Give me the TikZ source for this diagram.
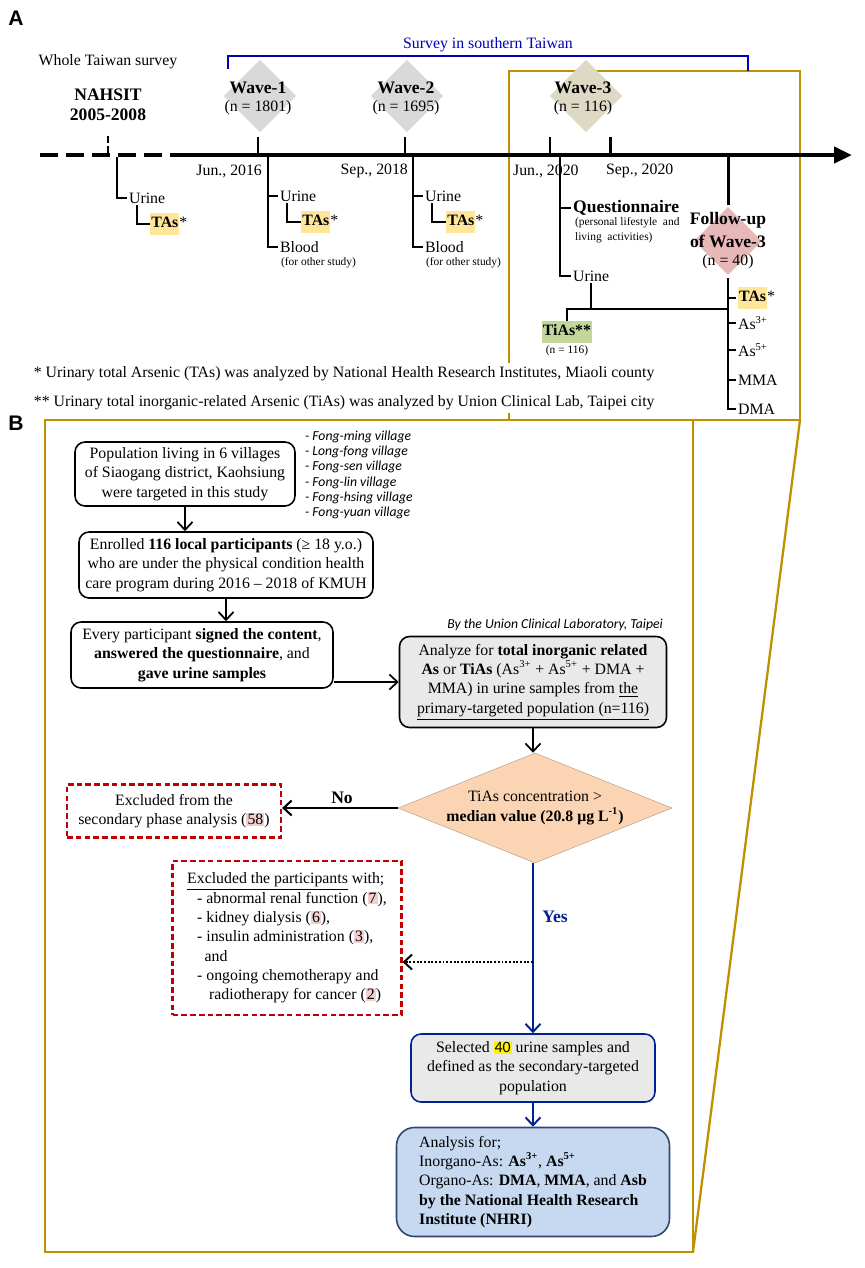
\documentclass[tikz,border=0pt]{standalone}
\usepackage{fontspec}
\setmainfont{Liberation Serif}
\setsansfont{Liberation Sans}
\newfontfamily\calibri{Carlito}
\usepackage{tikz}
\usetikzlibrary{arrows.meta,shapes.geometric}
\usepackage{xcolor}

\definecolor{goldbox}{RGB}{191,144,0}
\definecolor{surveyblue}{RGB}{0,0,180}
\definecolor{wavegrey}{RGB}{217,217,217}
\definecolor{wavebeige}{RGB}{221,217,196}
\definecolor{wavepink}{RGB}{230,184,183}
\definecolor{tasyellow}{RGB}{255,230,153}
\definecolor{tiasgreen}{RGB}{196,215,155}
\definecolor{numpink}{RGB}{242,206,206}
\definecolor{peach}{RGB}{251,212,180}
\definecolor{boxgrey}{RGB}{233,233,233}
\definecolor{yesblue}{RGB}{0,32,150}
\definecolor{lightblue}{RGB}{198,217,240}
\definecolor{slate}{RGB}{50,70,110}
\definecolor{exred}{RGB}{192,0,0}

\newcommand{\hlt}[2]{{\setlength{\fboxsep}{0.6pt}\colorbox{#1}{\strut #2}}}
\newcommand{\hln}[1]{{\setlength{\fboxsep}{0.6pt}\colorbox{numpink}{#1}}}
\newcommand{\sznote}{\fontsize{6.5}{8.5}\selectfont}
\newcommand{\szvill}{\calibri\itshape\fontsize{7.8}{8.7}\selectfont}
\newcommand{\szhead}{\fontsize{10}{11.5}\selectfont\bfseries}

\tikzset{
  flowbox/.style={draw, line width=0.9pt, rounded corners=0.2cm, align=center},
  exbox/.style={draw=exred, line width=1.3pt, dash pattern=on 3.2pt off 1.8pt, align=center},
  timetick/.style={line width=1.7pt},
  branchline/.style={line width=0.8pt},
  goldline/.style={draw=goldbox, line width=1.3pt},
  wavediamond/.style={rotate=45, minimum size=1.02cm, inner sep=0pt},
}

\begin{document}
\begin{tikzpicture}[x=0.02cm, y=-0.02cm, inner sep=1pt,
    font=\fontsize{9}{11}\selectfont,
    >={Straight Barb[length=1.6mm,width=3mm]}]
  \useasboundingbox (0,0) rectangle (865,1268);

  % frames
  \draw[goldline] (509,420) -- (509,71) -- (800,71) -- (800,420) -- cycle;
  \draw[goldline] (45,420) rectangle (693,1252);
  \draw[goldline] (800,420) -- (693,1252);

  \node[font=\sffamily\bfseries\fontsize{12}{14}\selectfont] (lblA) at (16,18) {A};
  \node[font=\sffamily\bfseries\fontsize{12}{14}\selectfont] (lblB) at (16,423) {B};

  % part A: headings
  \node (whole) at (108,62) {Whole Taiwan survey};
  \node[font=\szhead] (nahsit) at (108,95) {NAHSIT};
  \node[font=\szhead] (nyears) at (108,115) {2005-2008};

  \node[text=surveyblue] (south) at (488,45) {Survey in southern Taiwan};
  \coordinate (sbl) at (228,69);
  \coordinate (sbm) at (488,56);
  \coordinate (sbr) at (748,71);
  \draw[surveyblue, line width=1.1pt] (sbl) |- (sbm) -| (sbr);

  \node[wavediamond, fill=wavegrey] (dw1) at (260,96) {};
  \node[wavediamond, fill=wavegrey] (dw2) at (407,96) {};
  \node[wavediamond, fill=wavebeige] (dw3) at (586,96) {};
  \node[font=\szhead] (w1) at (258,88) {Wave-1};
  \node (n1) at (258,108) {(n = 1801)};
  \node[font=\szhead] (w2) at (406,88) {Wave-2};
  \node (n2) at (406,108) {(n = 1695)};
  \node[font=\szhead] (w3) at (583,88) {Wave-3};
  \node (n3) at (583,108) {(n = 116)};

  % timeline
  \coordinate (tl0) at (40,155);
  \coordinate (tl1) at (181,155);
  \coordinate (tl2) at (852,155);
  \draw[line width=2.8pt, dash pattern=on 0.36cm off 0.16cm] (tl0) -- (tl1);
  \draw[line width=2.8pt, -{Triangle[length=0.36cm,width=0.32cm]}] (tl1) -- (tl2);

  \draw[timetick, dash pattern=on 4pt off 1.5pt] (108,136) -- (108,155);
  \foreach \x in {258,405,550,610}
    \draw[timetick] (\x,137) -- (\x,155);
  \draw[timetick] (728,155) -- (728,205);

  \node[anchor=east] (d16) at (264,171) {Jun., 2016};
  \node[anchor=east] (d18) at (410,171) {Sep., 2018};
  \node[anchor=west] (d20a) at (511,171) {Jun., 2020};
  \node[anchor=west] (d20b) at (604,171) {Sep., 2020};

  % NAHSIT branch
  \coordinate (bn) at (117,157);
  \node[anchor=west] (urn) at (127,198) {Urine};
  \node[anchor=west, inner sep=0pt] (tasn) at (150,224) {\hlt{tasyellow}{\textbf{TAs}}*};
  \draw[branchline] (bn) |- (urn.west);
  \draw[branchline] ([xshift=0.2cm]urn.south west) |- (tasn.west);

  % wave-1 and wave-2 branches
  \foreach \x/\i in {268/1,413/2}{
    \coordinate (br\i) at (\x,157);
    \node[anchor=west] (ur\i) at (\x+10,196) {Urine};
    \node[anchor=west, inner sep=0pt] (tas\i) at (\x+33,222) {\hlt{tasyellow}{\textbf{TAs}}*};
    \node[anchor=west] (bl\i) at (\x+10,247) {Blood};
    \node[anchor=west, font=\sznote] (os\i) at (\x+11,263) {(for other study)};
    \draw[branchline] (br\i) |- (bl\i.west);
    \draw[branchline] (br\i |- ur\i.west) -- (ur\i.west);
    \draw[branchline] ([xshift=0.18cm]ur\i.south west) |- (tas\i.west);
  }

  % wave-3 branch
  \coordinate (b3) at (560,157);
  \node[anchor=west, font=\bfseries] (quest) at (571,208) {Questionnaire};
  \node[anchor=north west, font=\sznote, align=left] (qsub) at (573,215) {(personal lifestyle\ \ and\\living\ \ activities)};
  \node[anchor=west] (ur3) at (571,276) {Urine};
  \draw[branchline] (b3) |- (ur3.west);
  \draw[branchline] (b3 |- quest.west) -- (quest.west);

  \node[inner sep=0pt] (tias) at (567,332) {\hlt{tiasgreen}{\textbf{TiAs**}}};
  \node[font=\sznote] (tiasn) at (567,351) {(n = 116)};

  % follow-up
  \node[wavediamond, fill=wavepink, minimum size=0.96cm] (dfu) at (728,241) {};
  \node[font=\szhead] (fu1) at (728,220) {Follow-up};
  \node[font=\szhead] (fu2) at (728,241) {of Wave-3};
  \node (fu3) at (728,262) {(n = 40)};

  \coordinate (fut) at (728,278);
  \coordinate (fuj) at (728,309);
  \foreach \y/\n/\t in {298/1/{\hlt{tasyellow}{\textbf{TAs}}*}, 323/2/{As\textsuperscript{3+}},
                        350/3/{As\textsuperscript{5+}}, 380/4/{MMA}, 409/5/{DMA}}
    \node[anchor=west] (fl\n) at (736,\y) {\t};
  \draw[branchline] (fut) |- (fl5.west);
  \foreach \n in {1,...,4}
    \draw[branchline] (fut |- fl\n.west) -- (fl\n.west);
  \draw[branchline] (ur3.south) -- (ur3.south |- fuj);
  \draw[branchline] (tias.north) |- (fuj);

  \node[anchor=west, fill=white, align=left, inner sep=2pt] (foot) at (30,388)
    {* Urinary total Arsenic (TAs) was analyzed by National Health Research Institutes, Miaoli county\\[5.5pt]
     ** Urinary total inorganic-related Arsenic (TiAs) was analyzed by Union Clinical Lab, Taipei city};

  % part B
  \node[flowbox, minimum width=4.4cm, minimum height=1.28cm] (pop) at (185,474)
    {Population living in 6 villages\\of Siaogang district, Kaohsiung\\were targeted in this study};
  \node[anchor=west, align=left, font=\szvill] (vill) at (303,475)
    {- Fong-ming village\\- Long-fong village\\- Fong-sen village\\- Fong-lin village\\- Fong-hsing village\\- Fong-yuan village};
  \node[flowbox, minimum width=5.88cm, minimum height=1.32cm] (enrol) at (226,565)
    {Enrolled \textbf{116 local participants} (≥ 18 y.o.)\\who are under the physical condition health\\care program during 2016 – 2018 of KMUH};
  \node[flowbox, minimum width=5.24cm, minimum height=1.32cm] (consent) at (202,655)
    {Every participant \textbf{signed the content},\\\textbf{answered the questionnaire}, and\\\textbf{gave urine samples}};
  \node[anchor=east, font=\szvill] (union) at (665,625) {By the Union Clinical Laboratory, Taipei};
  \node[flowbox, fill=boxgrey, minimum width=5.34cm, minimum height=1.82cm] (anal) at (533,682)
    {Analyze for \textbf{total inorganic related}\\\textbf{As} or \textbf{TiAs} (As\textsuperscript{3+} + As\textsuperscript{5+} + DMA +\\MMA) in urine samples from \underline{the}\\\underline{primary-targeted population (n=116)}};
  \node[diamond, aspect=2.5, inner sep=0pt, fill=peach, draw=peach!75!black, line width=0.3pt,
        minimum width=5.48cm, minimum height=2.2cm, align=center] (dec) at (535,808)
    {TiAs concentration >\\\textbf{median value (20.8 μg L\textsuperscript{-1})}};
  \node[exbox, minimum width=4.28cm, minimum height=1.06cm] (excl1) at (174,811)
    {Excluded from the\\secondary phase analysis (\hln{58})};
  \node[exbox, align=left, minimum width=4.58cm, minimum height=3.08cm] (excl2) at (287,938)
    {\underline{Excluded the participants} with;\\
     \hspace*{0.2cm}- abnormal renal function (\hln{7}),\\
     \hspace*{0.2cm}- kidney dialysis (\hln{6}),\\
     \hspace*{0.2cm}- insulin administration (\hln{3}),\\
     \hspace*{0.35cm}and\\
     \hspace*{0.2cm}- ongoing chemotherapy and\\
     \hspace*{0.44cm}radiotherapy for cancer (\hln{2})};
  \node[flowbox, draw=yesblue, fill=boxgrey, minimum width=4.88cm, minimum height=1.36cm] (sel) at (533,1068)
    {Selected {\calibri\setlength{\fboxsep}{0.6pt}\colorbox{yellow}{40}} urine samples and\\defined as the secondary-targeted\\population};
  \node[flowbox, draw=slate, fill=lightblue, rounded corners=0.36cm, align=left,
        minimum width=5.46cm, minimum height=2.18cm] (nhri) at (533,1182)
    {Analysis for;\\Inorgano-As: \textbf{As\textsuperscript{3+}}, \textbf{As\textsuperscript{5+}}\\Organo-As: \textbf{DMA}, \textbf{MMA}, and \textbf{Asb}\\\textbf{by the National Health Research}\\\textbf{Institute (NHRI)}};

  \draw[->, line width=1pt] (pop.south) -- (pop.south |- enrol.north);
  \draw[->, line width=1pt] (enrol.south) -- (enrol.south |- consent.north);
  \draw[->, line width=1pt] (consent.east |- anal.west) -- (anal.west);
  \draw[->, line width=1pt] (anal.south) -- (anal.south |- dec.north);
  \draw[->, line width=1.2pt] (dec.west) -- (dec.west -| excl1.east);
  \node[font=\szhead] (no) at (342,798) {No};
  \draw[->, yesblue, line width=1.1pt] (dec.south -| sel.north) -- (sel.north);
  \node[font=\szhead, text=yesblue] (yes) at (555,917) {Yes};
  \coordinate (dotfrom) at (533,962);
  \draw[->, densely dotted, line width=1.1pt] (dotfrom) -- (dotfrom -| excl2.east);
  \draw[->, yesblue, line width=1.1pt] (sel.south) -- (nhri.north);
\end{tikzpicture}
\end{document}
